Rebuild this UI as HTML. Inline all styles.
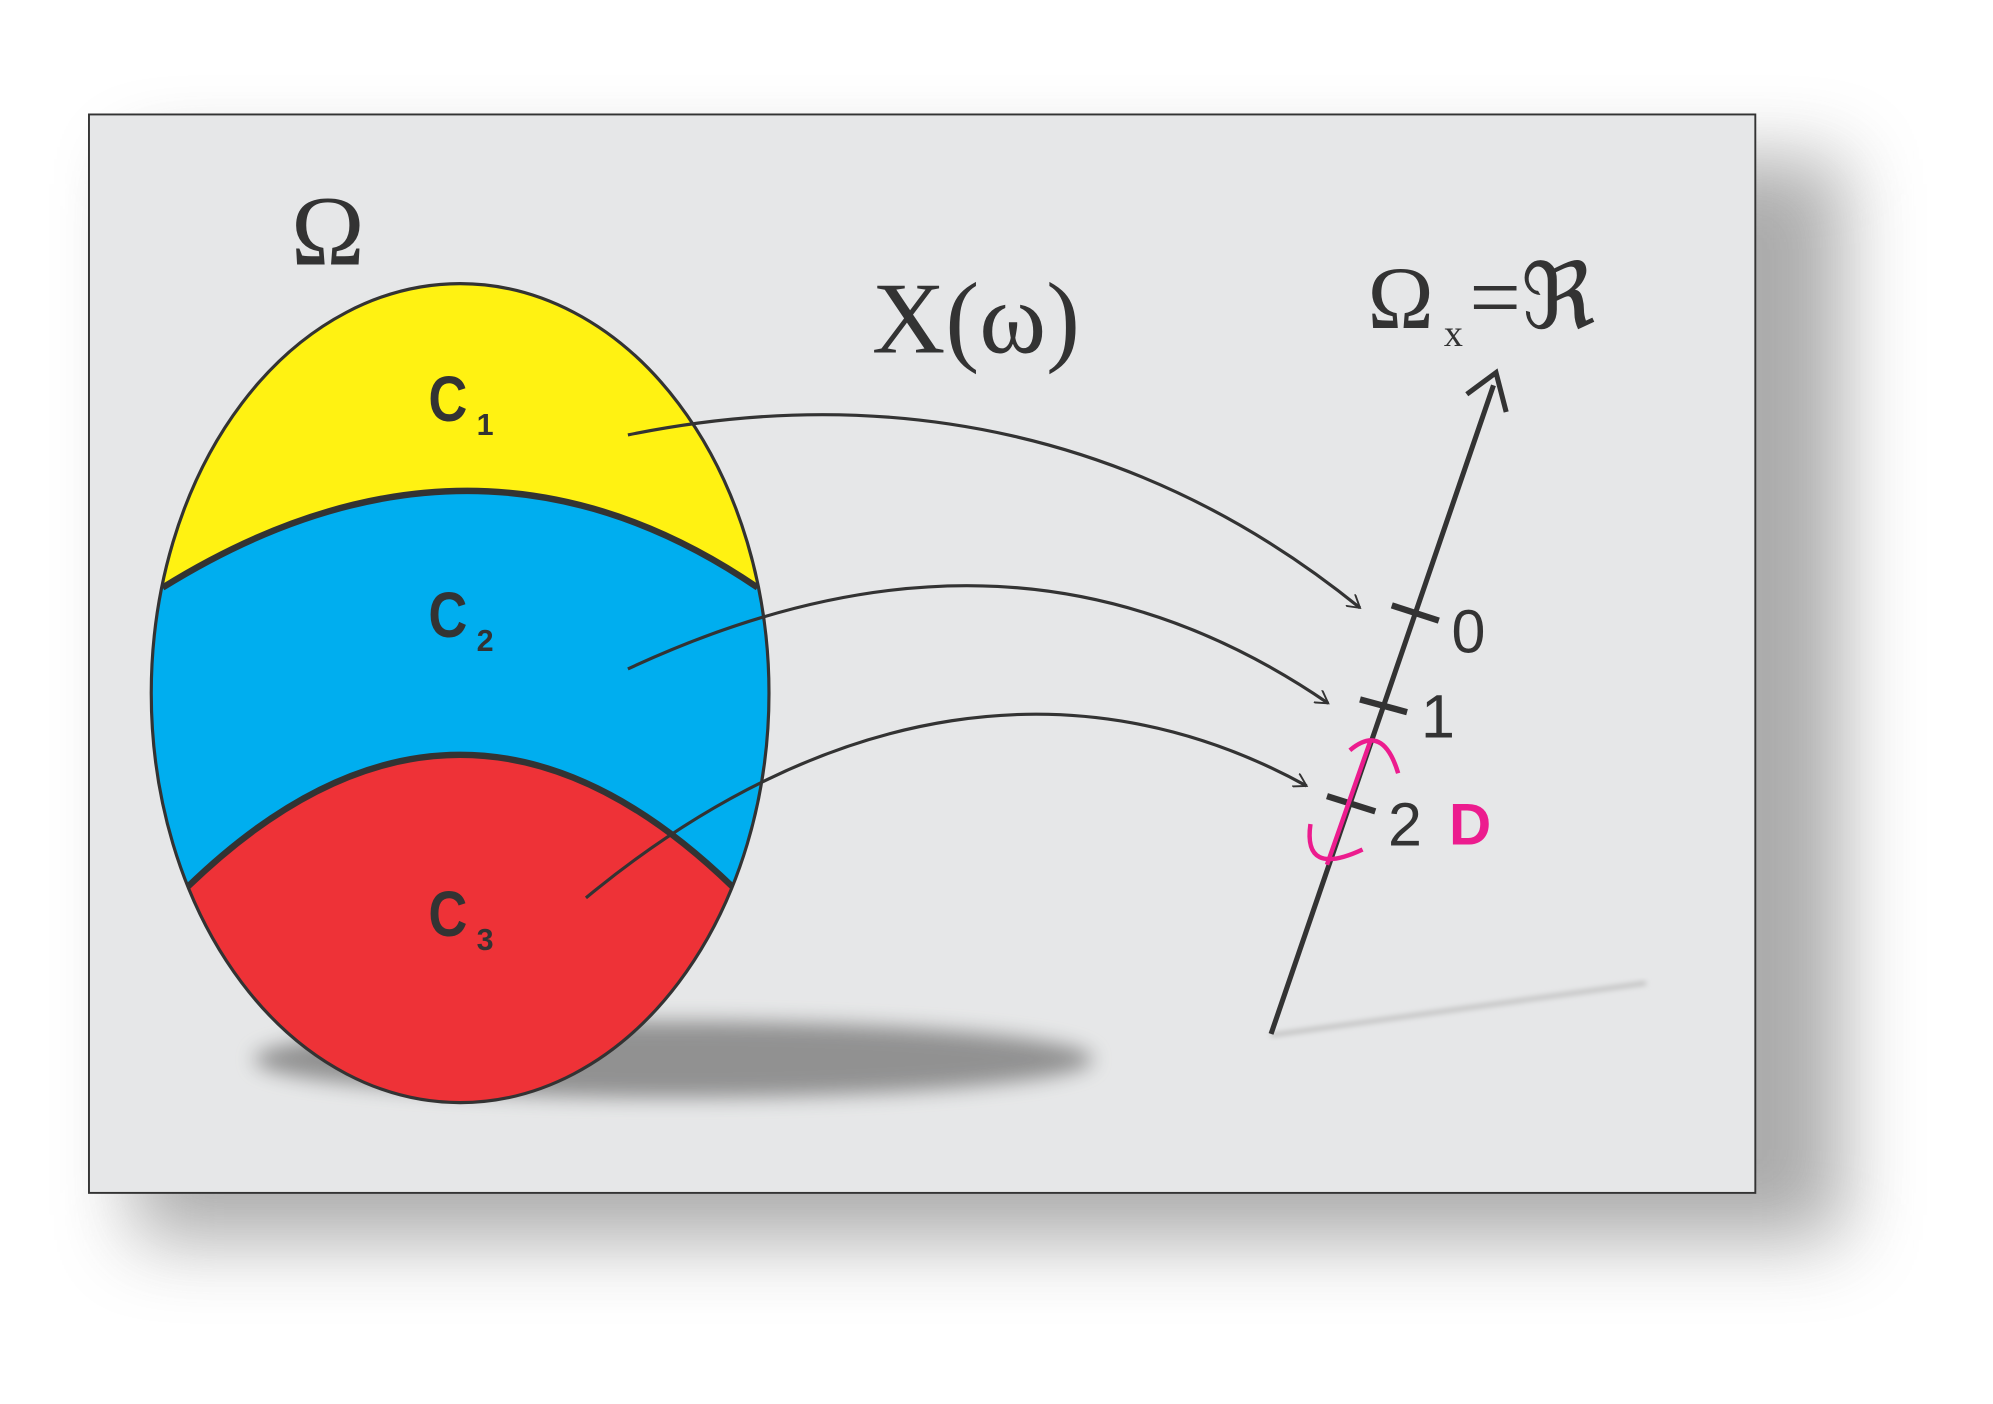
<!DOCTYPE html>
<html><head><style>html,body{margin:0;padding:0;background:#fff}svg{display:block}</style></head><body>
<svg width="1993" height="1404" viewBox="0 0 1568 1104" preserveAspectRatio="none" xmlns="http://www.w3.org/2000/svg">
<defs>
<filter id="sh" x="-20%" y="-20%" width="150%" height="150%"><feGaussianBlur stdDeviation="30"/></filter>
<filter id="sh2" x="-20%" y="-100%" width="140%" height="300%"><feGaussianBlur stdDeviation="8"/></filter>
<filter id="sh3"><feGaussianBlur stdDeviation="2"/></filter>
<clipPath id="eg"><ellipse cx="362" cy="545" rx="243" ry="322"/></clipPath>
<marker id="ar" markerWidth="12" markerHeight="12" refX="10" refY="6" orient="auto" markerUnits="userSpaceOnUse"><path d="M0,0 L10,6 L0,12" fill="none" stroke="#333" stroke-width="1.5"/></marker>
</defs>
<rect x="105" y="125" width="1345" height="850" fill="#888" filter="url(#sh)" opacity="0.7"/>
<rect x="70" y="90" width="1311" height="848" fill="#e6e7e8" stroke="#333" stroke-width="1.5"/>
<ellipse cx="530" cy="833" rx="330" ry="30" fill="#888" filter="url(#sh2)" opacity="0.9"/>
<line x1="1000" y1="814" x2="1295" y2="773" stroke="#bbb" stroke-width="3" filter="url(#sh3)"/>
<g clip-path="url(#eg)">
<rect x="100" y="200" width="520" height="700" fill="#ee3237"/>
<path d="M100,470 L128,462 Q373,310 596,462 L620,470 L620,200 L100,200Z" fill="#fff212"/>
<path d="M100,470 L128,462 Q373,310 596,462 L620,470 L620,710 L576,697 Q362,490 148,697 L100,710Z" fill="#00aeef"/>
</g>
<path d="M128,462 Q373,310 596,462" fill="none" stroke="#333" stroke-width="5"/>
<path d="M148,697 Q362,490 576,697" fill="none" stroke="#333" stroke-width="5"/>
<ellipse cx="362" cy="545" rx="243" ry="322" fill="none" stroke="#333" stroke-width="2.5"/>
<g font-family="Liberation Sans, sans-serif" font-weight="bold" fill="#333">
<text x="337" y="331" font-size="50" transform="translate(337 0) scale(0.85 1) translate(-337 0)">C</text><text x="375" y="342" font-size="24">1</text>
<text x="337" y="501" font-size="50" transform="translate(337 0) scale(0.85 1) translate(-337 0)">C</text><text x="375" y="512" font-size="24">2</text>
<text x="337" y="736" font-size="50" transform="translate(337 0) scale(0.85 1) translate(-337 0)">C</text><text x="375" y="747" font-size="24">3</text>
</g>
<g font-family="Liberation Serif, serif" fill="#333">
<text x="229" y="208" font-size="78">Ω</text>
<text x="686" y="277" font-size="80">X(ω)</text>
<text x="1076" y="258" font-size="70">Ω</text><text x="1136" y="272" font-size="30">x</text>
<text x="1156" y="258" font-size="72">=ℜ</text>
</g>
<path d="M494,342 C700,300 900,340 1070,478" fill="none" stroke="#333" stroke-width="2.5" marker-end="url(#ar)"/>
<path d="M494,526 C700,430 880,440 1045,553" fill="none" stroke="#333" stroke-width="2.5" marker-end="url(#ar)"/>
<path d="M461,706 C650,550 850,520 1028,618" fill="none" stroke="#333" stroke-width="2.5" marker-end="url(#ar)"/>
<line x1="1000" y1="813" x2="1175" y2="303" stroke="#333" stroke-width="4"/>
<path d="M1154,310 L1177,293 L1185,324" fill="none" stroke="#333" stroke-width="4"/>
<g stroke="#333" stroke-width="5">
<line x1="1095" y1="476" x2="1132" y2="488"/>
<line x1="1070" y1="550" x2="1107" y2="560"/>
<line x1="1044" y1="626" x2="1082" y2="638"/>
</g>
<g font-family="Liberation Sans, sans-serif" fill="#333" font-size="48">
<text x="1142" y="513">0</text><text x="1118" y="580">1</text><text x="1092" y="665">2</text>
</g>
<text x="1140" y="664" font-family="Liberation Sans, sans-serif" font-weight="bold" font-size="46" fill="#ec1c8e">D</text>
<g stroke="#ec1c8e" stroke-width="3.5" fill="none">
<line x1="1078" y1="583" x2="1044" y2="680"/>
<path d="M1062,590 Q1088,568 1100,608"/>
<path d="M1031,648 Q1025,690 1072,668"/>
</g>
</svg>
</body></html>
